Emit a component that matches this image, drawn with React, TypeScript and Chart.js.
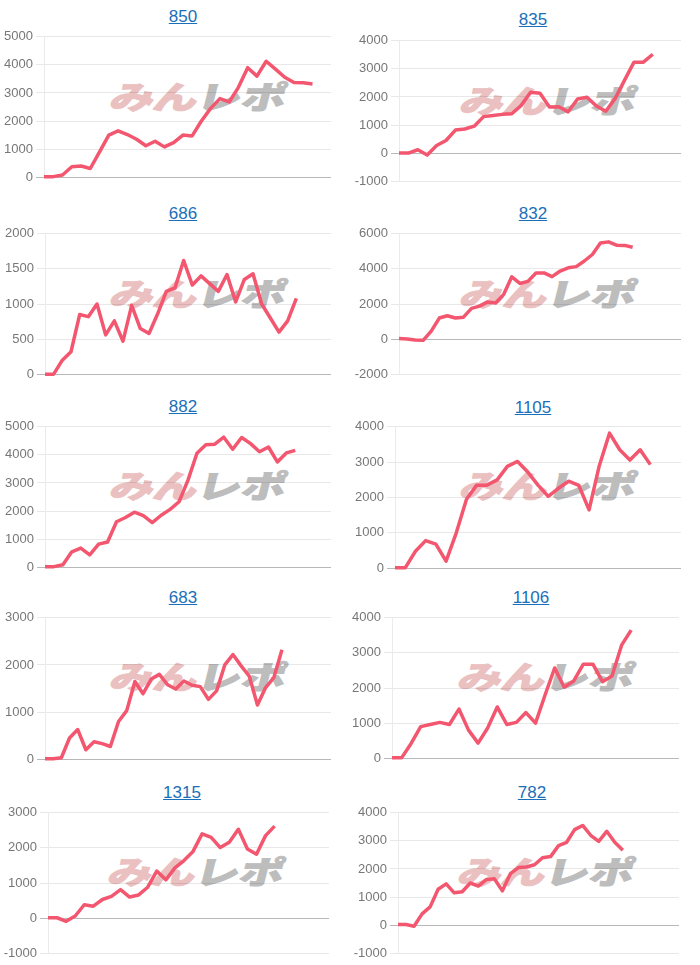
import React, { useEffect, useRef } from "react";
import { Chart, registerables } from "chart.js";

Chart.register(...registerables);

const days = Array.from({ length: 36 }, (_, i) => `${i + 1}`);

const v850 = [20, 20, 80, 370, 400, 310, 900, 1500, 1650, 1520, 1350, 1120, 1280, 1080, 1230, 1500, 1470, 2000, 2450, 2800, 2680, 3200, 3900, 3600, 4130, 3850, 3560, 3370, 3360, 3320];
const v835 = [0, 0, 120, -70, 270, 450, 820, 860, 960, 1300, 1340, 1380, 1400, 1700, 2170, 2130, 1640, 1650, 1470, 1930, 1990, 1680, 1490, 1950, 2600, 3240, 3240, 3520];
const v686 = [0, 0, 200, 320, 850, 820, 1000, 560, 760, 470, 980, 650, 580, 860, 1180, 1230, 1620, 1270, 1400, 1290, 1180, 1420, 1030, 1350, 1430, 1000, 800, 600, 760, 1080];
const v832 = [30, 10, -50, -70, 450, 1200, 1330, 1200, 1250, 1750, 1880, 2120, 2060, 2550, 3550, 3170, 3290, 3770, 3770, 3560, 3880, 4060, 4130, 4450, 4820, 5480, 5540, 5350, 5340, 5230];
const v882 = [20, 20, 90, 550, 680, 440, 820, 900, 1620, 1770, 1960, 1840, 1590, 1850, 2060, 2330, 3100, 4060, 4360, 4380, 4630, 4200, 4620, 4400, 4110, 4280, 3750, 4070, 4160];
const v1105 = [10, 10, 480, 780, 680, 200, 1000, 1950, 2350, 2350, 2500, 2880, 3020, 2720, 2350, 2030, 2260, 2460, 2340, 1650, 2900, 3820, 3350, 3060, 3350, 2930];
const v683 = [10, 10, 30, 450, 630, 200, 370, 330, 270, 800, 1030, 1650, 1390, 1700, 1800, 1580, 1490, 1660, 1570, 1540, 1270, 1450, 2000, 2220, 1980, 1760, 1150, 1520, 1730, 2320];
const v1106 = [10, 10, 420, 900, 960, 1020, 960, 1400, 800, 430, 860, 1460, 960, 1020, 1300, 1000, 1800, 2570, 2020, 2200, 2680, 2680, 2180, 2340, 3220, 3650];
const v1315 = [10, 10, -90, 60, 380, 340, 530, 620, 810, 600, 660, 880, 1340, 1090, 1430, 1640, 1900, 2400, 2300, 2010, 2160, 2530, 1970, 1820, 2350, 2620];
const v782 = [20, 20, -40, 400, 650, 1280, 1470, 1150, 1190, 1500, 1390, 1620, 1650, 1220, 1830, 2050, 2070, 2150, 2400, 2440, 2830, 2950, 3400, 3550, 3200, 2980, 3340, 2950, 2670];

const panels = [
  { title: "850", values: v850, slots: 32, min: 0, max: 5000, step: 1000, left: 44, right: 331, top: 36, bottom: 178, cx: 183, cy: 17, wx: 0, wy: 0 },
  { title: "835", values: v835, slots: 31, min: -1000, max: 4000, step: 1000, left: 399, right: 681, top: 40, bottom: 182, cx: 533, cy: 20, wx: 350, wy: 4 },
  { title: "686", values: v686, slots: 34, min: 0, max: 2000, step: 500, left: 45, right: 331, top: 233, bottom: 375, cx: 183, cy: 214, wx: 0, wy: 197 },
  { title: "832", values: v832, slots: 36, min: -2000, max: 6000, step: 2000, left: 399, right: 681, top: 233, bottom: 375, cx: 533, cy: 214, wx: 350, wy: 197 },
  { title: "882", values: v882, slots: 33, min: 0, max: 5000, step: 1000, left: 45, right: 331, top: 426, bottom: 568, cx: 183, cy: 407, wx: 0, wy: 389 },
  { title: "1105", values: v1105, slots: 29, min: 0, max: 4000, step: 1000, left: 395, right: 681, top: 426, bottom: 569, cx: 533, cy: 408, wx: 350, wy: 389 },
  { title: "683", values: v683, slots: 36, min: 0, max: 3000, step: 1000, left: 45, right: 331, top: 617, bottom: 760, cx: 183, cy: 598, wx: 0, wy: 580 },
  { title: "1106", values: v1106, slots: 31, min: 0, max: 4000, step: 1000, left: 392, right: 679, top: 617, bottom: 759, cx: 531, cy: 598, wx: 348, wy: 580 },
  { title: "1315", values: v1315, slots: 32, min: -1000, max: 3000, step: 1000, left: 48, right: 329, top: 812, bottom: 954, cx: 182, cy: 793, wx: -2, wy: 775 },
  { title: "782", values: v782, slots: 36, min: -1000, max: 4000, step: 1000, left: 398, right: 679, top: 812, bottom: 954, cx: 532, cy: 793, wx: 348, wy: 775 },
];

const FONT = '"Liberation Sans", Arial, sans-serif';

const markStyle: React.CSSProperties = {
  position: "absolute",
  fontFamily: '"Noto Sans CJK JP"',
  fontWeight: 900,
  fontSize: 43,
  lineHeight: "52px",
  whiteSpace: "nowrap",
  transform: "skewX(-14deg) scale(1.03, 0.74)",
};

function Panel({ p }: { p: (typeof panels)[number] }) {
  const ref = useRef<HTMLCanvasElement>(null);
  const pad = 10;
  const axisW = 46;
  useEffect(() => {
    const chart = new Chart(ref.current!, {
      type: "line",
      data: {
        labels: days.slice(0, p.slots),
        datasets: [
          {
            data: p.values,
            borderColor: "#f3566f",
            borderWidth: 3.5,
            borderJoinStyle: "round",
            pointRadius: 0,
            tension: 0,
            fill: false,
            clip: false,
          },
        ],
      },
      options: {
        animation: false,
        responsive: false,
        maintainAspectRatio: false,
        layout: { padding: { top: pad, bottom: pad, left: 0, right: 2 } },
        plugins: { legend: { display: false }, title: { display: false }, tooltip: { enabled: false } },
        scales: {
          x: { display: false },
          y: {
            min: p.min,
            max: p.max,
            afterFit: (s: any) => {
              s.width = axisW;
            },
            border: { display: true, color: "rgba(0,0,0,0.08)" },
            grid: {
              color: (c: any) => (c.tick && c.tick.value === 0 ? "rgba(0,0,0,0.28)" : "rgba(0,0,0,0.09)"),
              tickLength: 8,
            },
            ticks: {
              stepSize: p.step,
              color: "#777",
              padding: 3,
              font: { family: FONT, size: 13 },
              callback: (v: any) => String(v),
            },
          },
        },
      },
    } as any);
    return () => chart.destroy();
  }, []);
  const canvasLeft = p.left - axisW;
  return (
    <>
      <div style={{ position: "absolute", left: p.wx, top: p.wy, width: 350, height: 190, pointerEvents: "none" }}>
        <span style={{ ...markStyle, left: 113, top: 69, color: "#ebc0c0", letterSpacing: -1, WebkitTextStroke: "1.2px #ebc0c0" }}>みん</span>
        <span style={{ ...markStyle, left: 200, top: 69, color: "#bdbdbd", WebkitTextStroke: "1.2px #bdbdbd" }}>レポ</span>
      </div>
      <a
        href="#"
        style={{
          position: "absolute",
          left: p.cx - 50,
          width: 100,
          top: p.cy - 11,
          lineHeight: "22px",
          textAlign: "center",
          color: "#1b6fb8",
          textDecoration: "underline",
          fontFamily: FONT,
          fontSize: 17,
        }}
      >
        {p.title}
      </a>
      <canvas
        ref={ref}
        width={p.right - canvasLeft + 2}
        height={p.bottom - p.top + pad * 2}
        style={{
          position: "absolute",
          left: canvasLeft,
          top: p.top - pad,
          width: p.right - canvasLeft + 2,
          height: p.bottom - p.top + pad * 2,
        }}
      />
    </>
  );
}

export default function App() {
  return (
    <div style={{ position: "absolute", left: 0, top: 0, width: 700, height: 965, overflow: "hidden", background: "#fff" }}>
      {panels.map((p) => (
        <Panel key={p.title} p={p} />
      ))}
    </div>
  );
}
